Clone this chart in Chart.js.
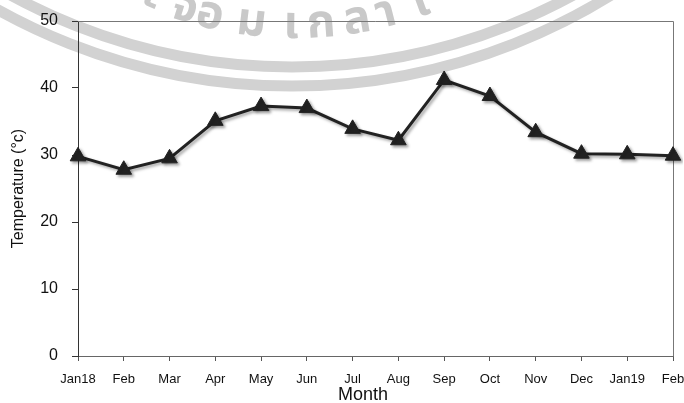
<!DOCTYPE html>
<html><head><meta charset="utf-8">
<script src="https://cdn.jsdelivr.net/npm/chart.js@4/dist/chart.umd.min.js"></script>
<style>html,body{margin:0;padding:0;background:#fff}#wrap{width:684px;height:403px}</style>
</head><body><div id="wrap"><canvas id="c" width="684" height="403"></canvas></div>
<script>
const months = ['Jan18','Feb','Mar','Apr','May','Jun','Jul','Aug','Sep','Oct','Nov','Dec','Jan19','Feb'];
const temperature = [29.8,27.8,29.5,35.1,37.3,37.0,33.9,32.2,41.2,38.8,33.4,30.2,30.1,29.9];
const yTicks = [0,10,20,30,40,50];
const xTitle = 'Month';
const yTitle = 'Temperature (°c)';
const watermarkChars = ['ะ','จ','อ','ม','เ','ก','ล','า','ใ'];

const FONT = "'Liberation Sans', Arial, Helvetica, sans-serif";

const watermark = {
  id: 'watermark',
  beforeDraw(chart) {
    const ctx = chart.ctx;
    ctx.save();
    ctx.fillStyle = '#fff';
    ctx.fillRect(0, 0, chart.width, chart.height);
    ctx.strokeStyle = '#d2d2d2';
    ctx.lineWidth = 11;
    ctx.beginPath(); ctx.arc(292, -518.6, 604.6, 0, Math.PI); ctx.stroke();
    ctx.beginPath(); ctx.arc(292, -518.6, 585.6, 0, Math.PI); ctx.stroke();
    const xs = [148, 181, 207, 250, 291, 322, 359, 389, 425];
    const cx = 295, cy = -342, R = 380;
    ctx.fillStyle = '#c9c9c9';
    ctx.font = "bold 46px 'Noto Sans Thai', 'Loma', 'Garuda', 'Norasi', 'DejaVu Sans', sans-serif";
    ctx.textAlign = 'center';
    ctx.textBaseline = 'alphabetic';
    watermarkChars.forEach((ch, i) => {
      const th = Math.asin((xs[i] - cx) / R);
      const px = cx + R * Math.sin(th), py = cy + R * Math.cos(th);
      ctx.save();
      ctx.translate(px, py);
      ctx.rotate(-th);
      ctx.fillText(ch, 0, 0);
      ctx.restore();
    });
    ctx.restore();
  }
};

const frame = {
  id: 'frame',
  beforeDatasetsDraw(chart) {
    const {ctx, chartArea: a} = chart;
    ctx.save();
    ctx.strokeStyle = '#777';
    ctx.lineWidth = 1;
    ctx.beginPath();
    ctx.moveTo(a.left, Math.round(a.top) + 0.5);
    ctx.lineTo(Math.round(a.right) + 0.5, Math.round(a.top) + 0.5);
    ctx.lineTo(Math.round(a.right) + 0.5, a.bottom);
    ctx.stroke();
    ctx.fillStyle = '#111';
    ctx.font = '18px ' + FONT;
    ctx.textAlign = 'center';
    ctx.textBaseline = 'middle';
    ctx.fillText(xTitle, 363, 395);
    ctx.restore();
  }
};

const shadow = {
  id: 'shadow',
  beforeDatasetDraw(chart) {
    const ctx = chart.ctx;
    ctx.save();
    ctx.shadowColor = 'rgba(0,0,0,0.35)';
    ctx.shadowBlur = 3;
    ctx.shadowOffsetX = 2;
    ctx.shadowOffsetY = 2;
  },
  afterDatasetDraw(chart) { chart.ctx.restore(); }
};

new Chart(document.getElementById('c'), {
  type: 'line',
  data: {
    labels: months,
    datasets: [{
      data: temperature,
      borderColor: '#222',
      borderWidth: 3,
      pointStyle: 'triangle',
      pointRadius: 9,
      pointBackgroundColor: '#222',
      pointBorderColor: '#222',
      pointBorderWidth: 1,
      tension: 0,
      fill: false
    }]
  },
  options: {
    responsive: false,
    animation: false,
    devicePixelRatio: 1,
    layout: {padding: {left: 0, right: 11, top: 21, bottom: 0}},
    plugins: {legend: {display: false}, tooltip: {enabled: false}},
    scales: {
      x: {
        type: 'category',
        offset: false,
        grid: {drawOnChartArea: false, tickLength: 5, color: '#555'},
        border: {color: '#666', width: 1},
        ticks: {color: '#111', font: {family: FONT, size: 13}, padding: 11, maxRotation: 0, autoSkip: false},
        afterFit(s) { s.height = 47; s.paddingLeft = 0; s.paddingRight = 0; }
      },
      y: {
        min: 0, max: 50,
        afterBuildTicks(s) { s.ticks = yTicks.map(v => ({value: v})); },
        grid: {drawOnChartArea: false, tickLength: 6, color: '#333'},
        border: {color: '#333', width: 1},
        ticks: {color: '#111', font: {family: FONT, size: 16}, padding: 14},
        title: {display: true, text: yTitle, color: '#111', font: {family: FONT, size: 16}, padding: {top: 9, bottom: 0}},
        afterFit(s) { s.width = 78; s.paddingTop = 0; s.paddingBottom = 0; }
      }
    }
  },
  plugins: [watermark, frame, shadow]
});
</script></body></html>
